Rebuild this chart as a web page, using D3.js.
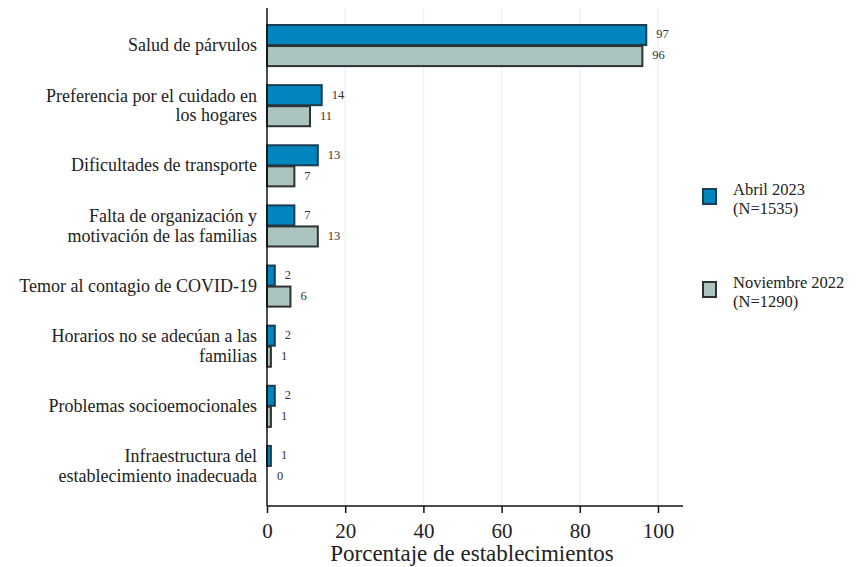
<!DOCTYPE html>
<html>
<head>
<meta charset="utf-8">
<script src="https://cdn.jsdelivr.net/npm/d3@7"></script>
<style>
  body { margin: 0; background: #fff; }
  text { font-family: "Liberation Serif", "Times New Roman", serif; fill: #222; }
</style>
</head>
<body>
<div id="chart"></div>
<script>
// categories (top to bottom), label lines
const categories = [
    ["Salud de párvulos"],
    ["Preferencia por el cuidado en", "los hogares"],
    ["Dificultades de transporte"],
    ["Falta de organización y", "motivación de las familias"],
    ["Temor al contagio de COVID-19"],
    ["Horarios no se adecúan a las", "familias"],
    ["Problemas socioemocionales"],
    ["Infraestructura del", "establecimiento inadecuada"]
];
const abril2023 = [97, 14, 13, 7, 2, 2, 2, 1];
const nov2022 = [96, 11, 7, 13, 6, 1, 1, 0];
const seriesNames = [["Abril 2023", "(N=1535)"], ["Noviembre 2022", "(N=1290)"]];
const xTicks = [0, 20, 40, 60, 80, 100];

const width = 860;
const height = 567;
const margin = { left: 267, top: 24, right: 177, bottom: 89 };

const blue = "#0085bf";
const blueStroke = "#1d3d55";
const grey = "#abc4c0";
const greyStroke = "#2e3332";

const svg = d3.select("#chart")
    .append("svg")
    .attr("width", width)
    .attr("height", height);

const x = d3.scaleLinear()
    .domain([0, 100])
    .range([margin.left, 658]);

const y = d3.scaleBand()
    .domain(d3.range(categories.length))
    .range([margin.top, 487])
    .paddingInner(0.3)
    .paddingOuter(0.0);

const sub = d3.scaleBand()
    .domain([0, 1])
    .range([0, y.bandwidth()]);

// grid lines
svg.selectAll(".grid")
    .data(xTicks.slice(1))
    .join("line")
        .attr("class", "grid")
        .attr("x1", d => x(d))
        .attr("x2", d => x(d))
        .attr("y1", 8)
        .attr("y2", 506)
        .attr("stroke", "#edf2f2")
        .attr("stroke-width", 1.5);

const data = categories.map((c, i) => ({ i, label: c, vals: [abril2023[i], nov2022[i]] }));

const groups = svg.selectAll(".grp")
    .data(data)
    .join("g")
        .attr("class", "grp")
        .attr("transform", d => `translate(0,${y(d.i)})`);

groups.selectAll("rect")
    .data(d => d.vals.map((v, k) => ({ v, k })))
    .join("rect")
        .attr("x", x(0))
        .attr("y", d => sub(d.k) + 1)
        .attr("width", d => Math.max(0, x(d.v) - x(0)))
        .attr("height", sub.bandwidth() - 1)
        .attr("fill", d => d.k === 0 ? blue : grey)
        .attr("stroke", d => d.k === 0 ? blueStroke : greyStroke)
        .attr("stroke-width", 2);

groups.selectAll(".val")
    .data(d => d.vals.map((v, k) => ({ v, k })))
    .join("text")
        .attr("class", "val")
        .attr("x", d => x(d.v) + 10)
        .attr("y", d => sub(d.k) + sub.bandwidth() / 2 + 1)
        .attr("dominant-baseline", "middle")
        .style("font-size", "12.5px")
        .style("fill", "#333")
        .text(d => d.v);

// category labels
const labels = groups.append("text")
    .attr("x", margin.left - 10)
    .attr("y", y.bandwidth() / 2)
    .attr("text-anchor", "end")
    .style("font-size", "18px");

labels.selectAll("tspan")
    .data(d => d.label.map((w, j) => ({ w, j, n: d.label.length })))
    .join("tspan")
        .attr("x", margin.left - 10)
        .attr("dy", d => d.j === 0 ? (d.n === 1 ? "0.33em" : "-0.2em") : "1.1em")
        .text(d => d.w);

// y axis line
svg.append("line")
    .attr("x1", x(0)).attr("x2", x(0))
    .attr("y1", 8).attr("y2", 506)
    .attr("stroke", "#111").attr("stroke-width", 1.5);

// x axis
const xAxis = svg.append("g")
    .attr("transform", "translate(0,506)")
    .call(d3.axisBottom(x).tickValues(xTicks).tickSize(7).tickPadding(10));
xAxis.select(".domain")
    .attr("d", `M${x(0)},0H683`)
    .attr("stroke", "#111")
    .attr("stroke-width", 1.5);
xAxis.selectAll(".tick line").attr("stroke", "#111").attr("stroke-width", 1.5);
xAxis.selectAll(".tick text")
    .style("font-family", "Liberation Serif, serif")
    .style("font-size", "21px")
    .attr("fill", "#222");

svg.append("text")
    .attr("x", (x(0) + 683) / 2 - 3)
    .attr("y", 561)
    .attr("text-anchor", "middle")
    .style("font-size", "23px")
    .text("Porcentaje de establecimientos");

// legend
const legend = svg.selectAll(".legend")
    .data(seriesNames)
    .join("g")
        .attr("class", "legend")
        .attr("transform", (d, i) => `translate(703,${189 + i * 93})`);

legend.append("rect")
    .attr("width", 13)
    .attr("height", 15)
    .attr("fill", (d, i) => i === 0 ? blue : grey)
    .attr("stroke", (d, i) => i === 0 ? blueStroke : greyStroke)
    .attr("stroke-width", 2);

legend.selectAll(".leg-line")
    .data(d => d)
    .join("text")
        .attr("class", "leg-line")
        .attr("x", 30)
        .attr("y", (d, j) => 6 + j * 19)
        .style("font-size", "16.5px")
        .text(d => d);
</script>
</body>
</html>
